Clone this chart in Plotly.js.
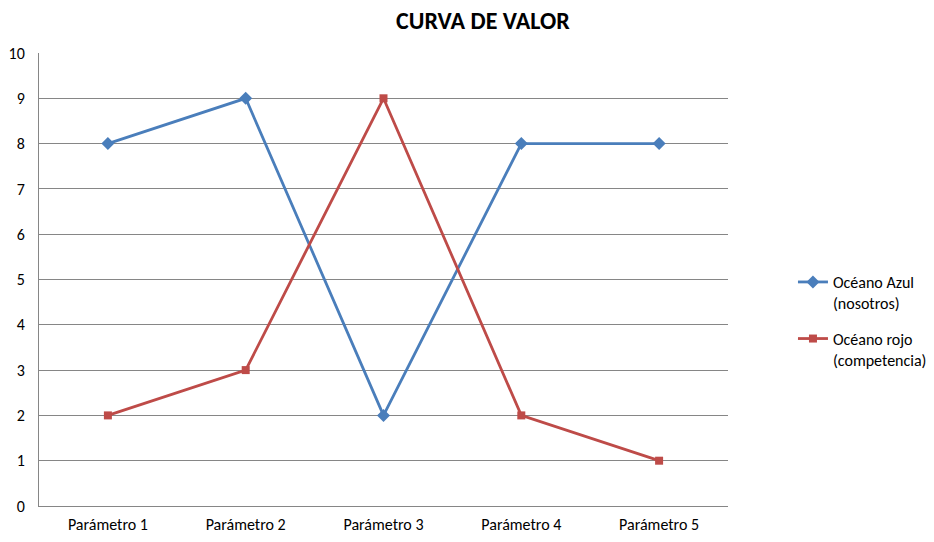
<!DOCTYPE html>
<html>
<head>
<meta charset="utf-8">
<script src="https://cdn.plot.ly/plotly-3.0.1.min.js"></script>
<style>html,body{margin:0;padding:0;background:#fff;}#chart{width:934px;height:542px;}</style>
</head>
<body>
<div id="chart"></div>
<script>
var categories = ["Parámetro 1", "Parámetro 2", "Parámetro 3", "Parámetro 4", "Parámetro 5"];
var azul = [8, 9, 2, 8, 8];
var rojo = [2, 3, 9, 2, 1];
var seriesNames = ["Océano Azul<br>(nosotros)", "Océano rojo<br>(competencia)"];

var font = "Calibri, Carlito, 'Open Sans', 'Liberation Sans', sans-serif";

var traces = [
  {x: categories, y: azul, name: seriesNames[0], legendgroup: "g1", type: "scatter", mode: "lines+markers",
   line: {color: "#4A7EBB", width: 2.8}, marker: {symbol: "diamond", size: 10, color: "#4A7EBB"}},
  {x: categories, y: rojo, name: seriesNames[1], legendgroup: "g2", type: "scatter", mode: "lines+markers",
   line: {color: "#BE4B48", width: 2.8}, marker: {symbol: "square", size: 8, color: "#BE4B48"}}
];

var layout = {
  width: 934, height: 542,
  margin: {l: 39, r: 206, t: 53, b: 36, autoexpand: false},
  paper_bgcolor: "#fff", plot_bgcolor: "#fff",
  font: {family: font, size: 16, color: "#000"},
  title: {text: "<b>CURVA DE VALOR</b>", font: {family: font, size: 24, color: "#000"},
          x: 0.517, xref: "container", xanchor: "center", y: 0.962, yref: "container", yanchor: "middle"},
  showlegend: true,
  legend: {xref: "container", yref: "container", x: 0.849, xanchor: "left", y: 0.511, yanchor: "top",
           valign: "top", traceorder: "grouped", font: {family: font, size: 16, color: "#000"},
           tracegroupgap: 12, itemwidth: 30},
  xaxis: {type: "category", range: [-0.5, 4.5], showgrid: false, showline: true, linecolor: "#868686", linewidth: 1,
          ticks: "", ticklabelstandoff: 4, tickfont: {family: font, size: 16, color: "#000"}, zeroline: false, fixedrange: true},
  yaxis: {range: [0, 10], dtick: 1, showgrid: true, gridcolor: "#868686", gridwidth: 1,
          showline: true, linecolor: "#868686", linewidth: 1, ticks: "", ticklen: 0, ticklabelstandoff: 10,
          tickfont: {family: font, size: 16, color: "#000"}, zeroline: false, fixedrange: true},
  hovermode: false
};

Plotly.newPlot("chart", traces, layout, {displayModeBar: false, staticPlot: true});
</script>
</body>
</html>
